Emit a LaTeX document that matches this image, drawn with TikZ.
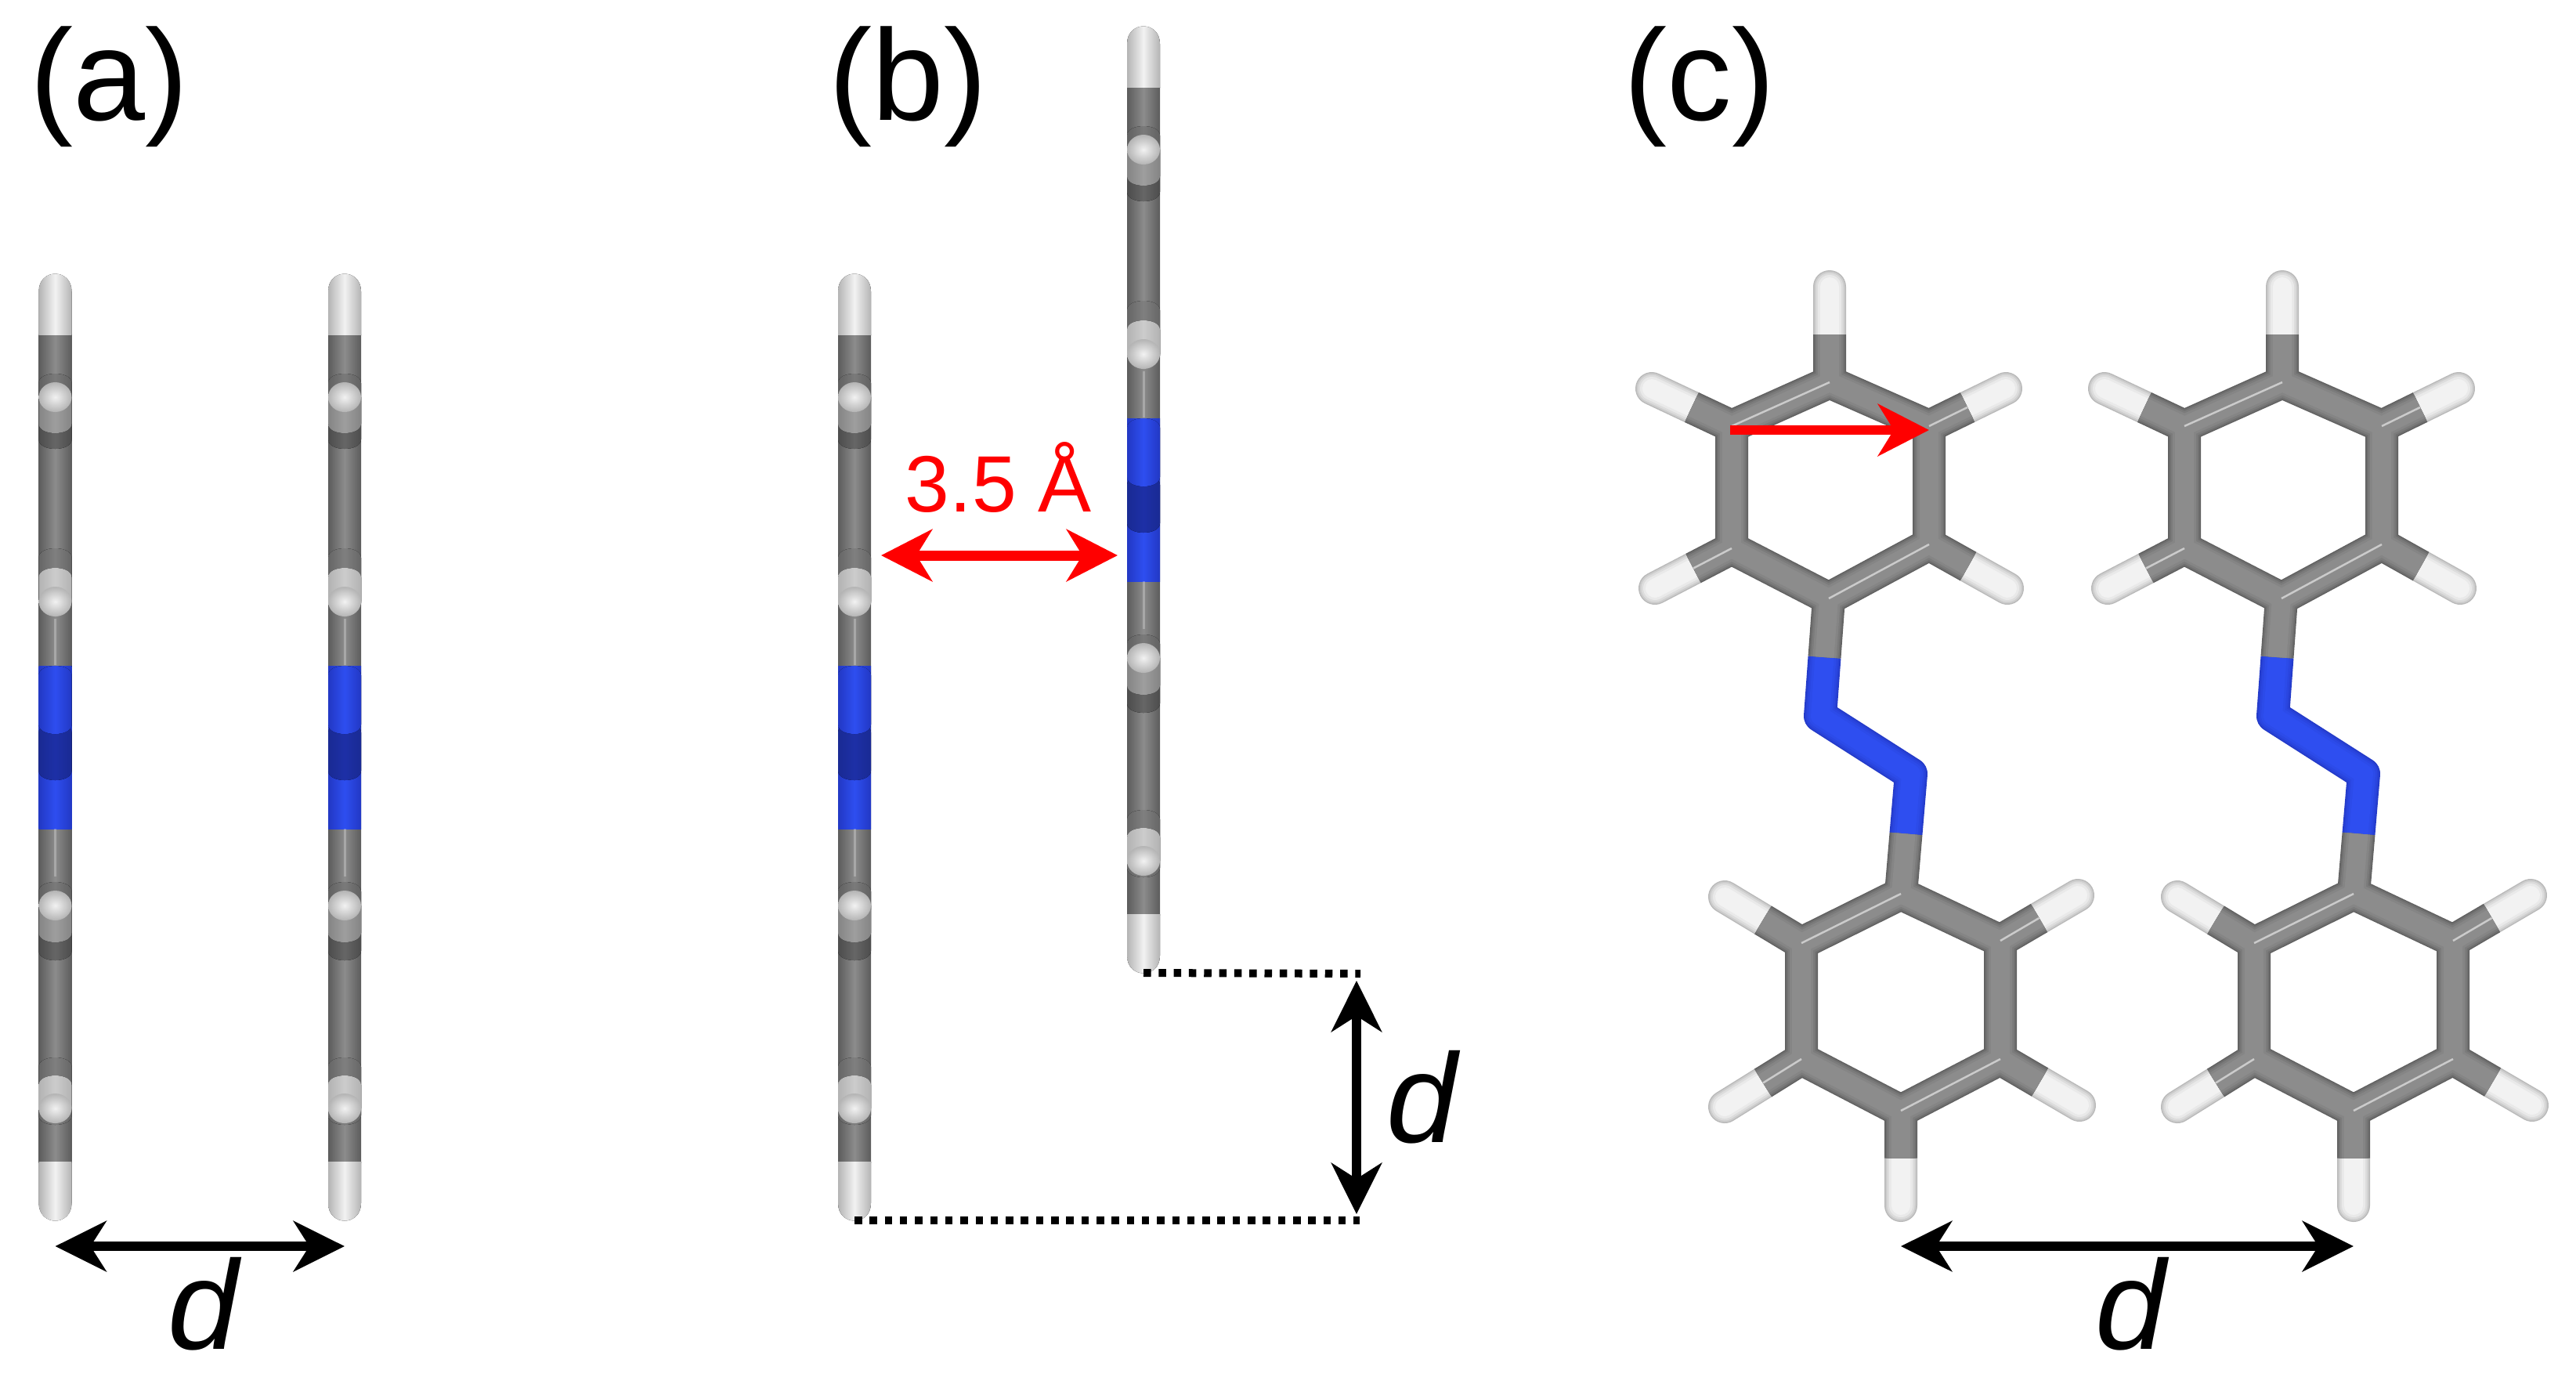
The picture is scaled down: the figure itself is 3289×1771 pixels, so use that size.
\documentclass[tikz,border=0pt]{standalone}
\usepackage{fontspec}
\setmainfont{Liberation Sans}
\usetikzlibrary{arrows.meta,calc,positioning}

\definecolor{bondedge}{HTML}{5C5C5C}
\definecolor{bondmid}{HTML}{8C8C8C}
\definecolor{hydedge}{HTML}{B4B4B4}
\definecolor{hydmid}{HTML}{F2F2F2}
\definecolor{nitedge}{HTML}{2238C4}
\definecolor{nitmid}{HTML}{2E4EF0}

% a slab of the side view, with bulged ends
\newcommand{\sideslab}[3]{\fill[#3] (-21,#1) .. controls (-21,#1-16) and (21,#1-16) .. (21,#1)
    -- (21,#2) .. controls (21,#2+16) and (-21,#2+16) .. (-21,#2) -- cycle;}
% a stick of the top view, stroked in layers
\newcommand{\stickpass}[3]{\foreach \w/\mix in {42/90,39/60,35/35,30/15,24/0}{
    \draw[line width=\w*0.01cm,draw=#1!\mix!#2] #3;}}

\tikzset{
    bondcyl/.style={left color=bondedge,right color=bondedge,middle color=bondmid},
    hydcyl/.style={left color=hydedge,right color=hydedge,middle color=hydmid},
    nitcyl/.style={left color=nitedge,right color=nitedge,middle color=nitmid},
    lightcyl/.style={left color=black!#1,right color=black!#1,middle color=black!\the\numexpr#1-10\relax},
    bead/.style={inner color=hydmid,outer color=hydedge},
    glint/.style={line width=.03cm,draw=white,opacity=.25},
    doublebond/.style={line width=.025cm,draw=white,opacity=.55},
    blackarrow/.style={line width=.12cm,{Stealth[length=.65cm,width=.64cm,inset=.2cm]}-{Stealth[length=.65cm,width=.64cm,inset=.2cm]}},
    redarrow/.style={line width=.13cm,red,{Stealth[length=.65cm,width=.66cm,inset=.2cm]}-{Stealth[length=.65cm,width=.66cm,inset=.2cm]}},
    vectorarrow/.style={line width=.12cm,red,-{Stealth[length=.65cm,width=.66cm,inset=.2cm]}},
    dottedrule/.style={line width=.1cm,dash pattern=on .095cm off .098cm},
    panellabel/.style={inner sep=0pt,anchor=base west,font=\fontsize{47}{57}\selectfont},
    dlabel/.style={inner sep=0pt,anchor=base,font=\fontsize{46}{56}\selectfont\itshape},
    redlabel/.style={inner sep=0pt,anchor=base,red,font=\fontsize{29}{35}\selectfont},
    sidemol/.pic={
        \coordinate (-top) at (0,349);
        \coordinate (-bot) at (0,1558);
        % body and hydrogen ends
        \fill[bondcyl] (-21,427) rectangle (21,1484);
        \fill[hydcyl] (-21,428) -- (-21,372) .. controls (-21,342) and (21,342) .. (21,372) -- (21,428) -- cycle;
        \fill[hydcyl] (-21,1483) -- (-21,1536) .. controls (-21,1566) and (21,1566) .. (21,1536) -- (21,1483) -- cycle;
        % upper rings
        \sideslab{489}{512}{lightcyl=62}
        \sideslab{512}{561}{lightcyl=70}
        \sideslab{507}{541}{lightcyl=48}
        \shade[bead] (0,507) ellipse [x radius=21,y radius=19];
        \sideslab{712}{770}{lightcyl=60}
        \sideslab{737}{768}{lightcyl=30}
        \shade[bead] (0,768) ellipse [x radius=21,y radius=19];
        \draw[glint] (0,790) -- (0,849);
        % azo group
        \fill[nitcyl] (-21,850) rectangle (21,1058);
        \sideslab{935}{984}{left color=nitedge!75!black,right color=nitedge!75!black,middle color=nitedge!85!black}
        \sideslab{862}{925}{nitcyl}
        \draw[glint] (0,1058) -- (0,1119);
        % lower rings
        \sideslab{1138}{1161}{lightcyl=62}
        \sideslab{1161}{1214}{lightcyl=70}
        \sideslab{1156}{1191}{lightcyl=48}
        \shade[bead] (0,1156) ellipse [x radius=21,y radius=19];
        \sideslab{1362}{1424}{lightcyl=60}
        \sideslab{1385}{1415}{lightcyl=30}
        \shade[bead] (0,1415) ellipse [x radius=21,y radius=19];
    },
    topmol/.pic={
        % upper ring
        \coordinate (-c1) at (2336,488);
        \coordinate (-c2) at (2211,544);
        \coordinate (-c3) at (2211,700);
        \coordinate (-c4) at (2335,764);
        \coordinate (-c5) at (2463,695);
        \coordinate (-c6) at (2463,544);
        \coordinate (-h1) at (2336,366);
        \coordinate (-h2) at (2109,496);
        \coordinate (-h3) at (2113,751);
        \coordinate (-h5) at (2563,751);
        \coordinate (-h6) at (2561,496);
        % azo group
        \coordinate (-n1) at (2324,914);
        \coordinate (-n2) at (2440,988);
        % lower ring
        \coordinate (-d1) at (2427,1141);
        \coordinate (-d2) at (2300,1204);
        \coordinate (-d3) at (2300,1352);
        \coordinate (-d4) at (2427,1418);
        \coordinate (-d5) at (2554,1352);
        \coordinate (-d6) at (2554,1201);
        \coordinate (-k2) at (2202,1145);
        \coordinate (-k3) at (2202,1413);
        \coordinate (-k4) at (2427,1539);
        \coordinate (-k5) at (2655,1411);
        \coordinate (-k6) at (2653,1143);
        \foreach \a/\b in {c1/h1,c2/h2,c3/h3,c5/h5,c6/h6,c4/n1,d1/n2,d2/k2,d3/k3,d4/k4,d5/k5,d6/k6}
            \coordinate (-m\a) at ($(-\a)!.5!(-\b)$);
        % hydrogens
        \stickpass{hydedge}{hydmid}{[line cap=round]
            (-h1) -- (-mc1) (-h2) -- (-mc2) (-h3) -- (-mc3) (-h5) -- (-mc5) (-h6) -- (-mc6)
            (-k2) -- (-md2) (-k3) -- (-md3) (-k4) -- (-md4) (-k5) -- (-md5) (-k6) -- (-md6)}
        % nitrogens
        \stickpass{nitedge}{nitmid}{[line join=round] (-mc4) -- (-n1) -- (-n2) -- (-md1)}
        % carbons
        \stickpass{bondedge}{bondmid}{
            (-c1) -- (-c2) -- (-c3) -- (-c4) -- (-c5) -- (-c6) -- cycle
            (-d1) -- (-d2) -- (-d3) -- (-d4) -- (-d5) -- (-d6) -- cycle
            (-mc1) -- (-c1) (-mc2) -- (-c2) (-mc3) -- (-c3) (-mc5) -- (-c5) (-mc6) -- (-c6)
            (-mc4) -- (-c4) (-md1) -- (-d1)
            (-md2) -- (-d2) (-md3) -- (-d3) (-md4) -- (-d4) (-md5) -- (-d5) (-md6) -- (-d6)}
        \draw[doublebond] (-c1) -- (-c2) (-c4) -- (-c5) (-c6) -- (-mc6) (-c3) -- (-mc3);
        \draw[doublebond] (-d1) -- (-d2) (-d4) -- (-d5) (-d6) -- (-md6) (-d3) -- (-md3);
    }
}

\begin{document}
\begin{tikzpicture}[x=.01cm,y=-.01cm]
    \useasboundingbox (0,0) rectangle (3289,1771);

    % Panel a -----------------------------------------------------
    \node[panellabel] (labela) at (38,153) {(a)};
    \pic (sa1) at (70.5,0) {sidemol};
    \pic (sa2) at (440,0) {sidemol};
    \draw[blackarrow] ([yshift=-.33cm]sa1-bot) -- ([yshift=-.33cm]sa2-bot);
    \node[dlabel] (da) at (259,1722) {d};

    % Panel b -----------------------------------------------------
    \node[panellabel] (labelb) at (1058,153) {(b)};
    \pic (sb1) at (1091,0) {sidemol};
    \pic (sb2) at (1460,-316) {sidemol};
    \coordinate (gapl) at (1125,709);
    \coordinate (gapr) at (1427,709);
    \draw[redarrow] (gapl) -- (gapr);
    \node[redlabel] (gap) at (1275,653) {3.5 Å};
    \coordinate (rulet) at (1737,1243);
    \coordinate (ruleb) at (1736,1558);
    \draw[dottedrule] (sb2-bot) -- (rulet);
    \draw[dottedrule] (sb1-bot) -- (ruleb);
    \coordinate (shiftt) at (1732,1252);
    \coordinate (shiftb) at (1732,1550);
    \draw[blackarrow] (shiftt) -- (shiftb);
    \node[dlabel] (db) at (1815,1458) {d};

    % Panel c -----------------------------------------------------
    \node[panellabel] (labelc) at (2073,153) {(c)};
    \pic (tc1) at (0,0) {topmol};
    \pic (tc2) at (578,0) {topmol};
    \draw[vectorarrow] ([xshift=-.02cm,yshift=-.05cm]tc1-c2) -- ([yshift=-.05cm]tc1-c6);
    \draw[blackarrow] (tc1-k4 |- 0,1591) -- (tc2-k4 |- 0,1591);
    \node[dlabel] (dc) at (2720,1722) {d};
\end{tikzpicture}
\end{document}
